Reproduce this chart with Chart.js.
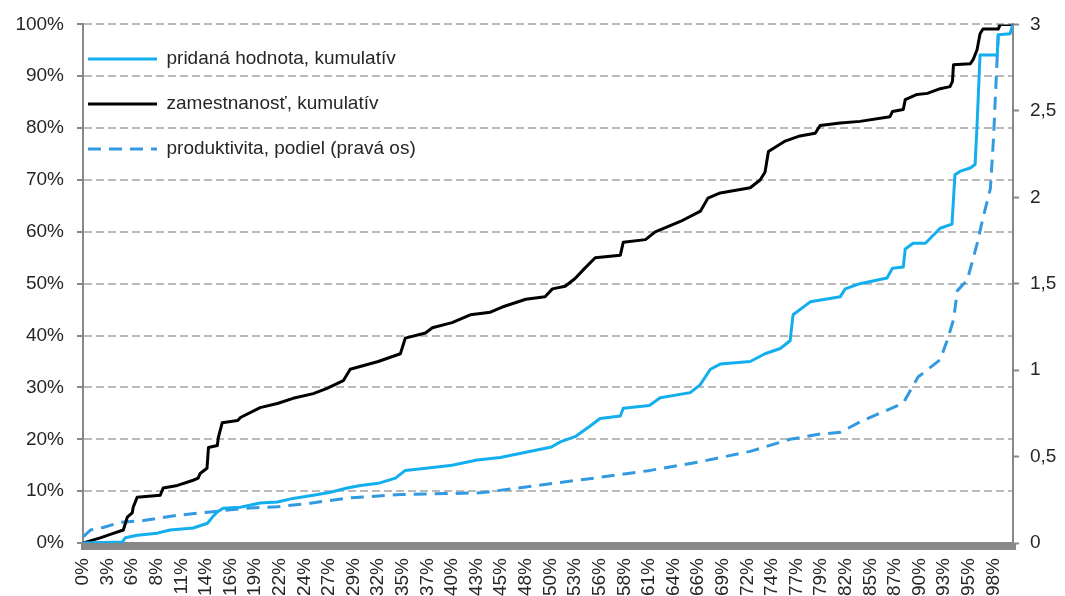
<!DOCTYPE html>
<html>
<head>
<meta charset="utf-8">
<script src="https://cdn.jsdelivr.net/npm/chart.js@4.4.0/dist/chart.umd.min.js"></script>
<style>
  html, body { margin: 0; padding: 0; background: #fff; overflow: hidden; }
  #wrap { width: 1065px; height: 596px; overflow: hidden; }
</style>
</head>
<body>
<div id="wrap"><canvas id="chart" width="1065" height="620"></canvas></div>
<script>
// Categories: 190 ranked items, a label on every 5th one
const categoryCount = 190;
const xTickLabels = ["0%", "3%", "6%", "8%", "11%", "14%", "16%", "19%", "22%", "24%",
  "27%", "29%", "32%", "35%", "37%", "40%", "43%", "45%", "48%", "50%",
  "53%", "56%", "58%", "61%", "64%", "66%", "69%", "72%", "74%", "77%",
  "79%", "82%", "85%", "87%", "90%", "93%", "95%", "98%"];

const seriesLabels = ["pridaná hodnota, kumulatív", "zamestnanosť, kumulatív", "produktivita, podiel (pravá os)"];

// pridaná hodnota, kumulatív (%) - category position / value
const valueAddedX = [0, 8, 8.6, 11, 15.1, 17.7, 22.4, 25.3, 26.3, 27.3,
  28.5, 32, 36, 39.5, 42.7, 46.8, 50.3, 53.7, 56.4, 60,
  63.5, 65.5, 70.6, 75, 80.1, 84.8, 90, 95.2, 97, 100,
  103, 105.1, 109.2, 109.8, 115.1, 117.3, 123.4, 125.4, 127.5, 129.5,
  135.6, 138.6, 141.7, 143.7, 144.3, 147.8, 153.9, 154.9, 157.9, 163.4,
  164.5, 166.7, 167.1, 168.7, 171.2, 174.2, 176.6, 177.2, 178.3, 180.3,
  181.3, 181.7, 182.3, 185.8, 186, 188.4, 189];
const valueAddedY = [0, 0.2, 1, 1.5, 1.9, 2.5, 2.9, 3.8, 5, 6,
  6.7, 6.9, 7.7, 7.9, 8.6, 9.2, 9.8, 10.6, 11.1, 11.5,
  12.5, 14, 14.5, 15, 16, 16.5, 17.5, 18.5, 19.5, 20.5,
  22.5, 24, 24.5, 26, 26.5, 28, 29, 30.5, 33.5, 34.5,
  35, 36.5, 37.5, 39, 44, 46.5, 47.5, 49, 50, 51.1,
  53, 53.2, 56.7, 57.8, 57.8, 60.7, 61.5, 71, 71.7, 72.3,
  73, 80.7, 94.1, 94.1, 98, 98.2, 100];

// zamestnanosť, kumulatív (%)
const employmentX = [0, 3.5, 6, 8.2, 9, 10, 10.2, 11, 15.7, 16.3,
  19.2, 22.4, 23.4, 23.8, 25.2, 25.5, 27.3, 27.5, 28.3, 31.4,
  32, 36, 39.5, 42.7, 46.8, 49.6, 52.9, 54.3, 60, 64.5,
  65.5, 69.6, 71, 75, 78.7, 82.8, 85.2, 90, 93.9, 95.4,
  98, 100, 102, 104.1, 109.2, 109.8, 114.3, 116.3, 121.4, 125.5,
  127, 129.5, 135.6, 137.6, 138.6, 139.3, 142.7, 145.7, 148.8, 149.8,
  153.9, 157.9, 164, 164.5, 166.7, 167.1, 169.5, 171.6, 174.2, 176.2,
  176.7, 176.9, 180.3, 180.9, 181.7, 182.3, 182.9, 186, 186.4, 189];
const employmentY = [0, 1, 1.8, 2.5, 5, 5.8, 6.9, 8.8, 9.2, 10.6,
  11.1, 12.1, 12.5, 13.4, 14.4, 18.4, 18.8, 20.3, 23.2, 23.6,
  24.2, 26.1, 26.9, 27.9, 28.8, 29.8, 31.3, 33.5, 35, 36.5,
  39.5, 40.5, 41.5, 42.5, 44, 44.5, 45.5, 47, 47.5, 49,
  49.5, 51, 53, 55, 55.5, 58, 58.5, 60, 62, 64,
  66.5, 67.5, 68.5, 70, 71.5, 75.5, 77.5, 78.5, 79, 80.5,
  81, 81.3, 82.2, 83.2, 83.6, 85.5, 86.5, 86.7, 87.6, 88,
  89, 92.2, 92.4, 93.2, 95.1, 98.2, 99.1, 99.1, 100, 100];

// produktivita, podiel (right axis)
const productivityX = [0, 1.5, 4.1, 7.6, 12.3, 19.2, 25.9, 32.6, 39.5, 46.2,
  53.7, 64.5, 80.7, 88.9, 97, 105.1, 115.3, 125.4, 135.6, 143.7,
  149.8, 153.9, 157.9, 166.7, 169.7, 174.2, 175.6, 176.9, 177.7, 179.7,
  181.7, 182.9, 184.4, 185, 186, 189];
const productivityY = [0.035, 0.075, 0.09, 0.12, 0.13, 0.16, 0.18, 0.2, 0.21, 0.23,
  0.26, 0.28, 0.29, 0.32, 0.35, 0.38, 0.42, 0.47, 0.53, 0.6,
  0.63, 0.64, 0.7, 0.81, 0.96, 1.06, 1.17, 1.29, 1.46, 1.52,
  1.73, 1.88, 2.05, 2.32, 2.94, 4.2];

const points = (xs, ys) => xs.map((x, i) => ({ x: x, y: ys[i] }));

const textColor = "#262626";
const axisColor = "#888888";
const font = { family: "'Liberation Sans', Arial, sans-serif", size: 19 };

// put the legend in the top left corner of the plot
const legendInside = {
  id: "legendInside",
  afterLayout(chart) {
    const lg = chart.legend;
    const area = chart.chartArea;
    lg.left = area.left - 21;
    lg.top = area.top - 1;
    lg.right = area.right;
    lg.bottom = area.bottom;
  }
};

new Chart(document.getElementById("chart"), {
  type: "line",
  data: {
    datasets: [
      {
        label: seriesLabels[0],
        data: points(valueAddedX, valueAddedY),
        borderColor: "#13aeee",
        borderWidth: 3,
        yAxisID: "y"
      },
      {
        label: seriesLabels[1],
        data: points(employmentX, employmentY),
        borderColor: "#000000",
        borderWidth: 3,
        yAxisID: "y"
      },
      {
        label: seriesLabels[2],
        data: points(productivityX, productivityY),
        borderColor: "#3399e0",
        borderWidth: 3,
        borderDash: [13, 8],
        yAxisID: "y2"
      }
    ]
  },
  options: {
    responsive: false,
    animation: false,
    devicePixelRatio: 1,
    layout: { padding: { top: 22.5, left: 0, right: 0, bottom: 0 } },
    elements: {
      point: { radius: 0 },
      line: { tension: 0, borderJoinStyle: "round" }
    },
    scales: {
      x: {
        type: "linear",
        min: 0,
        max: categoryCount - 1,
        grid: { display: true, drawOnChartArea: false, drawTicks: true, tickLength: 7, tickWidth: 5, tickColor: axisColor },
        border: { display: true, color: axisColor, width: 2 },
        ticks: {
          stepSize: 1,
          autoSkip: false,
          minRotation: 90,
          maxRotation: 90,
          padding: 8,
          color: textColor,
          font: font,
          callback: (v) => (v % 5 === 0 ? (xTickLabels[v / 5] || "") : "")
        },
        afterFit(scale) { scale.height = 77; }
      },
      y: {
        position: "left",
        min: 0,
        max: 100,
        grid: { color: "#bababa", lineWidth: 2, tickColor: axisColor, tickLength: 6, tickWidth: 2 },
        border: { display: true, color: axisColor, width: 2, dash: [8, 4] },
        ticks: { stepSize: 10, padding: 13, color: textColor, font: font, callback: (v) => v + "%" },
        afterFit(scale) { scale.width = 83; }
      },
      y2: {
        position: "right",
        min: 0,
        max: 3,
        grid: { drawOnChartArea: false, tickColor: axisColor, tickLength: 6, tickWidth: 2 },
        border: { display: true, color: axisColor, width: 2 },
        ticks: { stepSize: 0.5, padding: 11, color: textColor, font: font, callback: (v) => String(v).replace(".", ",") },
        afterFit(scale) { scale.width = 52; }
      }
    },
    plugins: {
      tooltip: { enabled: false },
      legend: {
        position: "chartArea",
        align: "start",
        labels: {
          usePointStyle: true,
          pointStyle: "line",
          pointStyleWidth: 69,
          padding: 26,
          color: textColor,
          font: font,
          generateLabels: (chart) => chart.data.datasets.map((ds, i) => ({
            text: ds.label,
            fillStyle: ds.borderColor,
            strokeStyle: ds.borderColor,
            lineWidth: ds.borderWidth,
            lineDash: ds.borderDash || [],
            lineCap: "butt",
            pointStyle: "line",
            fontColor: textColor,
            hidden: false,
            datasetIndex: i
          }))
        }
      }
    }
  },
  plugins: [legendInside]
});
</script>
</body>
</html>
